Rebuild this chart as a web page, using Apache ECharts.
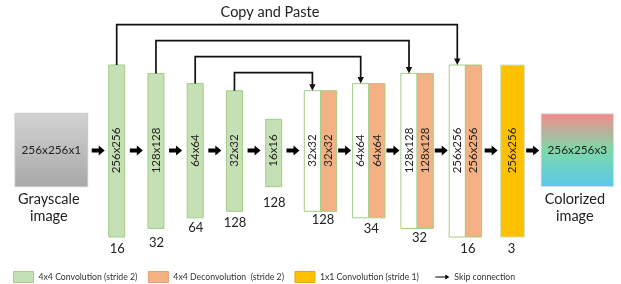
<!DOCTYPE html>
<html>
<head>
<meta charset="utf-8">
<script src="https://cdn.jsdelivr.net/npm/echarts@6/dist/echarts.min.js"></script>
<style>
  html, body { margin: 0; padding: 0; background: #fff; }
  #main { width: 621px; height: 284px; }
</style>
</head>
<body>
<div id="main"></div>
<script>
  // ---- data ----
  var encSizes = ['256x256', '128x128', '64x64', '32x32', '16x16'];   // encoder feature maps
  var encChannels = [16, 32, 64, 128, 128];
  var decSizes = ['32x32', '64x64', '128x128', '256x256'];            // decoder (copy + deconv)
  var decChannels = [128, 34, 32, 16];
  var outSizes = ['256x256'];                                          // 1x1 conv output
  var outChannels = [3];
  var inputLabel = ['256x256x1', 'Grayscale', 'image'];
  var outputLabel = ['256x256x3', 'Colorized', 'image'];
  var skipFrom = [0, 1, 2, 3];   // encoder index
  var skipTo = [3, 2, 1, 0];     // decoder index
  var legendNames = ['4x4 Convolution (stride 2)', '4x4 Deconvolution  (stride 2)', '1x1 Convolution (stride 1)', 'Skip connection'];
  var titleText = 'Copy and Paste';

  // ---- layout (axis units) ----
  var MID_Y = 150.5;
  var span = {'256x256': [65, 237], '128x128': [73.4, 228.5], '64x64': [83.6, 217.8], '32x32': [90.7, 211.3], '16x16': [119.3, 186.7]};
  var encX0 = 108.7, encStep = 39.25, encW = 16;
  var decX0 = 304.3, decStep = 48.3, decW = 16.2;
  var outX0 = 500.7, outW = 23.6;
  var inBox = [15, 113.3, 87.7, 186.7];
  var outBox = [541, 113.7, 613.7, 186.7];
  var encCountDy = [11.5, 14.8, 10.3, 11.4, 16.3];
  var decCountDy = [9, 11.3, 9.7, 12.3];
  var outCountDy = [12.3];
  var skipY0 = 24.7, skipStep = 16;

  var GREEN = '#C5E0B4', GREEN_LINE = '#A3CE88', ORANGE = '#F4B183', YELLOW = '#FFC000', TXT = '#222';
  var FONT = 'Lato';
  var blockFont = 11.5, countFont = 13, bigFont = 14.5, boxFont = 11.8;

  var chart = echarts.init(document.getElementById('main'));

  function rect(api, x0, y0, x1, y1) {
    var p0 = api.coord([x0, y0]), p1 = api.coord([x1, y1]);
    return {x: p0[0], y: p0[1], width: p1[0] - p0[0], height: p1[1] - p0[1]};
  }
  function txt(api, s, x, y, size, rot) {
    var p = api.coord([x, y]);
    return {
      type: 'text', x: p[0], y: p[1], rotation: rot || 0,
      style: {text: String(s), fill: TXT, fontFamily: FONT, fontSize: size, align: 'center', verticalAlign: 'middle'}
    };
  }

  function encLeft(i) { return encX0 + i * encStep; }
  function decLeft(i) { return decX0 + i * decStep; }

  /*编码器方块*/
  function renderEnc(params, api) {
    var i = api.value(0), s = encSizes[i], x = encLeft(i), sp = span[s];
    return {
      type: 'group',
      children: [
        {type: 'rect', shape: rect(api, x, sp[0], x + encW, sp[1]), style: {fill: GREEN, stroke: GREEN_LINE, lineWidth: 1}},
        txt(api, s, x + encW / 2, MID_Y, blockFont, Math.PI / 2),
        txt(api, encChannels[i], x + encW / 2 + 0.5, sp[1] + encCountDy[i], countFont)
      ]
    };
  }

  /*解码器方块*/
  function renderDec(params, api) {
    var i = api.value(0), s = decSizes[i], x = decLeft(i), sp = span[s];
    return {
      type: 'group',
      children: [
        {type: 'rect', shape: rect(api, x, sp[0], x + decW, sp[1]), style: {fill: '#fff', stroke: GREEN_LINE, lineWidth: 1}},
        {type: 'rect', shape: rect(api, x + decW, sp[0], x + 2 * decW, sp[1]), style: {fill: ORANGE, stroke: GREEN_LINE, lineWidth: 1}},
        txt(api, s, x + decW / 2, MID_Y, blockFont, Math.PI / 2),
        txt(api, s, x + decW * 1.5, MID_Y, blockFont, Math.PI / 2),
        txt(api, decChannels[i], x + decW + 2.5, sp[1] + decCountDy[i], countFont)
      ]
    };
  }

  function renderOut(params, api) {
    var i = api.value(0), s = outSizes[i], sp = span[s];
    return {
      type: 'group',
      children: [
        {type: 'rect', shape: rect(api, outX0, sp[0], outX0 + outW, sp[1]), style: {fill: YELLOW, stroke: '#C9E2B8', lineWidth: 1}},
        txt(api, s, outX0 + outW / 2, MID_Y, blockFont, Math.PI / 2),
        txt(api, outChannels[i], outX0 + outW / 2 - 1, sp[1] + outCountDy[i], countFont)
      ]
    };
  }

  /*跳跃连接*/
  function renderSkip(params, api) {
    var k = api.value(0);
    var from = skipFrom[k], to = skipTo[k];
    var sx = encLeft(from) + encW / 2, sy = span[encSizes[from]][0];
    var ex = decLeft(to) + decW / 2, ey = span[decSizes[to]][0];
    var ly = skipY0 + from * skipStep;
    var pts = [[sx, sy], [sx, ly], [ex, ly], [ex, ey - 5]].map(function (p) { return api.coord(p); });
    var head = [[ex - 3.2, ey - 6.5], [ex + 3.2, ey - 6.5], [ex, ey]].map(function (p) { return api.coord(p); });
    return {
      type: 'group',
      children: [
        {type: 'polyline', shape: {points: pts}, style: {stroke: '#111', lineWidth: 1.7, fill: null}},
        {type: 'polygon', shape: {points: head}, style: {fill: '#111'}}
      ]
    };
  }

  // flow arrows sit in the gaps between consecutive elements
  var edges = [[inBox[0], inBox[2]]];
  encSizes.forEach(function (s, i) { edges.push([encLeft(i), encLeft(i) + encW]); });
  decSizes.forEach(function (s, i) { edges.push([decLeft(i), decLeft(i) + 2 * decW]); });
  edges.push([outX0, outX0 + outW]);
  edges.push([outBox[0], outBox[2]]);

  function renderFlow(params, api) {
    var k = api.value(0);
    var a = edges[k][1], b = edges[k + 1][0];
    var c = (a + b) / 2, L = 13, x0 = c - L / 2, x1 = c + L / 2, hl = 6;
    var pts = [[x0, MID_Y - 2], [x1 - hl, MID_Y - 2], [x1 - hl, MID_Y - 5], [x1, MID_Y], [x1 - hl, MID_Y + 5],
      [x1 - hl, MID_Y + 2], [x0, MID_Y + 2]].map(function (p) { return api.coord(p); });
    return {type: 'polygon', shape: {points: pts}, style: {fill: '#000'}};
  }

  function renderImages(params, api) {
    var k = api.value(0);
    var box = k === 0 ? inBox : outBox, lab = k === 0 ? inputLabel : outputLabel;
    var fill = k === 0
      ? new echarts.graphic.LinearGradient(0, 0, 0, 1, [{offset: 0, color: '#D3D3D3'}, {offset: 1, color: '#A8A8A8'}])
      : new echarts.graphic.LinearGradient(0, 0, 0, 1, [{offset: 0, color: '#F38B8C'}, {offset: 0.5, color: '#7ED8A9'}, {offset: 1, color: '#5BC8EC'}]);
    var cx = (box[0] + box[2]) / 2;
    return {
      type: 'group',
      children: [
        {type: 'rect', shape: rect(api, box[0], box[1], box[2], box[3]), style: {fill: fill, stroke: k === 0 ? '#C8C8C8' : '#E4E4E4', lineWidth: 1}},
        txt(api, lab[0], cx, MID_Y, boxFont),
        txt(api, lab[1], cx - 2.5, 199, bigFont),
        txt(api, lab[2], cx - 2.5, 216.8, bigFont),
        txt(api, titleText, 270, 12.7, bigFont)
      ].slice(0, k === 0 ? 5 : 4)
    };
  }

  function idx(arr) { return arr.map(function (d, i) { return [i]; }); }

  chart.setOption({
    animation: false,
    grid: {left: 0, right: 0, top: 0, bottom: 0},
    xAxis: {type: 'value', min: 0, max: 621, show: false},
    yAxis: {type: 'value', min: 0, max: 284, inverse: true, show: false},
    legend: {
      left: 13, top: 271, padding: 0, itemWidth: 20, itemHeight: 11, itemGap: 10.5, selectedMode: false,
      textStyle: {fontFamily: FONT, fontSize: 8.7, color: '#333'},
      data: [
        {name: legendNames[0], icon: 'rect', itemStyle: {color: GREEN, borderColor: GREEN_LINE, borderWidth: 1}},
        {name: legendNames[1], icon: 'rect', itemStyle: {color: ORANGE, borderColor: '#E7A070', borderWidth: 1}},
        {name: legendNames[2], icon: 'rect', itemStyle: {color: YELLOW, borderColor: '#E0AA00', borderWidth: 1}},
        {name: legendNames[3], icon: 'path://M0,0 M20,11 M6,4.9 L16,4.9 L16,3 L20,5.5 L16,8 L16,6.1 L6,6.1 Z', itemStyle: {color: '#000'}}
      ]
    },
    series: [
      {type: 'custom', name: 'images', renderItem: renderImages, data: [[0], [1]], clip: false},
      {type: 'custom', name: 'flow', renderItem: renderFlow, data: idx(edges.slice(1)), clip: false},
      {type: 'custom', name: legendNames[0], renderItem: renderEnc, data: idx(encSizes), itemStyle: {color: GREEN}, clip: false},
      {type: 'custom', name: legendNames[1], renderItem: renderDec, data: idx(decSizes), itemStyle: {color: ORANGE}, clip: false},
      {type: 'custom', name: legendNames[2], renderItem: renderOut, data: idx(outSizes), itemStyle: {color: YELLOW}, clip: false},
      {type: 'custom', name: legendNames[3], renderItem: renderSkip, data: idx(skipFrom), itemStyle: {color: '#000'}, clip: false}
    ]
  });
</script>
</body>
</html>
